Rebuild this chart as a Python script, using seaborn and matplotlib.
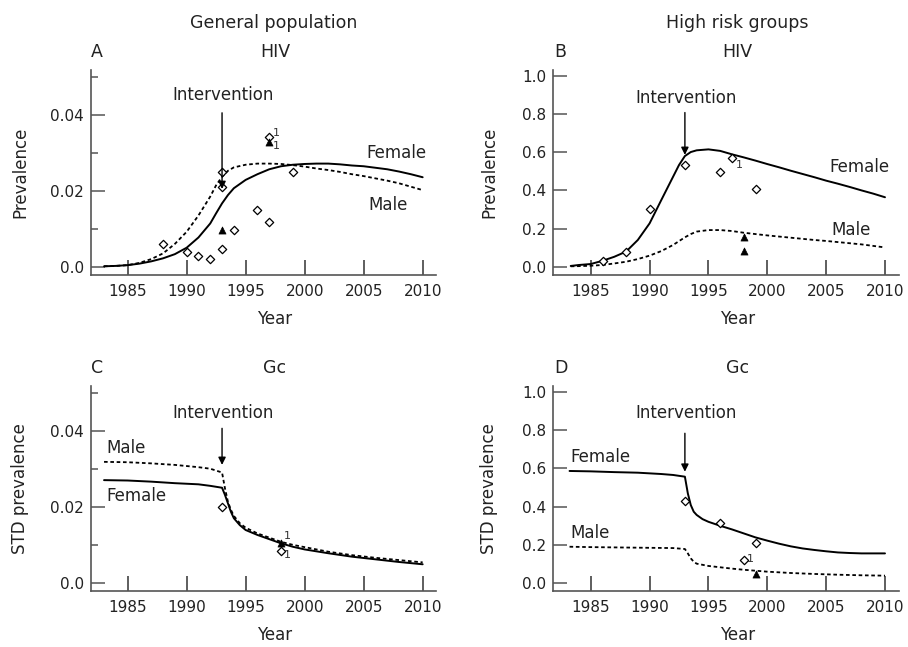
import matplotlib
matplotlib.use("Agg")
import matplotlib.pyplot as plt
import seaborn as sns
import numpy as np

# ---------------- data ----------------
# Panel A: general population, HIV
a_years = [1983, 1984, 1985, 1986, 1987, 1988, 1989, 1990, 1991, 1992, 1992.5, 1993, 1993.5,
           1994, 1995, 1996, 1997, 1998, 1999, 2000, 2001, 2002, 2003, 2004, 2005, 2006,
           2007, 2008, 2009, 2010]
a_female = [0.0001, 0.0002, 0.0004, 0.0008, 0.0014, 0.0022, 0.0033, 0.0050, 0.0077, 0.0114,
            0.0141, 0.0167, 0.0189, 0.0207, 0.0229, 0.0244, 0.0257, 0.0265, 0.0269, 0.0271,
            0.0272, 0.0272, 0.0270, 0.0267, 0.0265, 0.0261, 0.0257, 0.0251, 0.0244, 0.0236]
a_male = [0.0001, 0.0002, 0.0004, 0.0010, 0.0020, 0.0035, 0.0060, 0.0092, 0.0135, 0.0185,
          0.0215, 0.0237, 0.0253, 0.0262, 0.0269, 0.0272, 0.0272, 0.0271, 0.0268, 0.0264,
          0.0259, 0.0255, 0.0250, 0.0244, 0.0239, 0.0233, 0.0227, 0.0220, 0.0211, 0.0202]
a_obs_years = [1988, 1990, 1991, 1992, 1993, 1993, 1993, 1994, 1996, 1997, 1997, 1999]
a_obs_vals = [0.0059, 0.0040, 0.0028, 0.0019, 0.0047, 0.0209, 0.0251, 0.0098, 0.0149, 0.0119,
              0.0342, 0.0251]
a_tri_years = [1993, 1997]
a_tri_vals = [0.0098, 0.0330]

# Panel B: high risk groups, HIV
b_years = [1983.3, 1984, 1985, 1986, 1987, 1988, 1989, 1990, 1991, 1992, 1992.5, 1993, 1993.5,
           1994, 1995, 1996, 1997, 1998, 1999, 2000, 2001, 2002, 2003, 2004, 2005, 2006,
           2007, 2008, 2009, 2010]
b_female = [0.004, 0.009, 0.014, 0.031, 0.052, 0.079, 0.140, 0.227, 0.350, 0.472, 0.533, 0.580,
            0.601, 0.610, 0.615, 0.607, 0.589, 0.573, 0.556, 0.538, 0.521, 0.503, 0.486, 0.469,
            0.451, 0.435, 0.418, 0.400, 0.383, 0.364]
b_male = [0.002, 0.003, 0.005, 0.009, 0.017, 0.026, 0.040, 0.058, 0.082, 0.114, 0.134, 0.154,
          0.171, 0.184, 0.192, 0.192, 0.187, 0.178, 0.171, 0.164, 0.158, 0.152, 0.146, 0.140,
          0.135, 0.129, 0.123, 0.117, 0.109, 0.101]
b_obs_years = [1986, 1988, 1990, 1993, 1996, 1997, 1999]
b_obs_vals = [0.031, 0.075, 0.302, 0.533, 0.495, 0.570, 0.406]
b_tri_years = [1998, 1998]
b_tri_vals = [0.157, 0.084]

# Panel C: general population, Gc
c_years = [1983, 1985, 1987, 1989, 1991, 1992, 1993, 1993.25, 1993.5, 1993.75, 1994, 1994.5,
           1995, 1996, 1997, 1998, 1999, 2000, 2002, 2004, 2006, 2008, 2010]
c_female = [0.0271, 0.0270, 0.0267, 0.0263, 0.0260, 0.0256, 0.0251, 0.0232, 0.0210, 0.0188,
            0.0171, 0.0153, 0.0140, 0.0127, 0.0116, 0.0105, 0.0096, 0.0089, 0.0079, 0.0070,
            0.0063, 0.0056, 0.0050]
c_male = [0.0319, 0.0318, 0.0315, 0.0311, 0.0305, 0.0301, 0.0291, 0.0249, 0.0214, 0.0193,
          0.0177, 0.0158, 0.0146, 0.0131, 0.0120, 0.0109, 0.0101, 0.0095, 0.0083, 0.0074,
          0.0067, 0.0061, 0.0055]
c_obs_years = [1993, 1998]
c_obs_vals = [0.0200, 0.0086]
c_tri_years = [1998]
c_tri_vals = [0.0105]

# Panel D: high risk groups, Gc
d_female_years = [1983.2, 1985, 1987, 1989, 1991, 1992, 1993, 1993.1, 1993.25, 1993.5, 1993.75,
                  1994, 1994.5, 1995, 1996, 1997, 1998, 1999, 2000, 2001, 2002, 2003, 2004,
                  2005, 2006, 2007, 2008, 2010]
d_female = [0.587, 0.585, 0.581, 0.578, 0.571, 0.566, 0.557, 0.522, 0.469, 0.408, 0.373, 0.356,
            0.334, 0.320, 0.299, 0.280, 0.259, 0.238, 0.221, 0.205, 0.191, 0.180, 0.172, 0.165,
            0.159, 0.156, 0.154, 0.154]
d_male_years = [1983.2, 1985, 1989, 1992, 1993, 1993.25, 1993.5, 1993.75, 1994, 1995, 1996,
                1997, 1998, 1999, 2000, 2002, 2004, 2006, 2008, 2010]
d_male = [0.189, 0.187, 0.184, 0.182, 0.177, 0.154, 0.128, 0.110, 0.100, 0.088, 0.081, 0.074,
          0.068, 0.063, 0.058, 0.051, 0.046, 0.042, 0.039, 0.037]
d_obs_years = [1993, 1996, 1998, 1999]
d_obs_vals = [0.429, 0.315, 0.119, 0.210]
d_tri_years = [1999]
d_tri_vals = [0.046]

x_ticks = [1985, 1990, 1995, 2000, 2005, 2010]
small_y_ticks = [0.0, 0.02, 0.04]
small_y_labels = ["0.0", "0.02", "0.04"]
small_y_minor = [0.01, 0.03, 0.05]
big_y_ticks = [0.0, 0.2, 0.4, 0.6, 0.8, 1.0]
big_y_labels = ["0.0", "0.2", "0.4", "0.6", "0.8", "1.0"]

# ---------------- style ----------------
sns.set_theme(style="ticks")
plt.rcParams["font.family"] = ["DejaVu Sans"]
GREY = "#555555"
INK = "#222222"
W, H = 908, 647

fig = plt.figure(figsize=(W / 100, H / 100), dpi=100)


def px_axes(left, top, right, bottom):
    return fig.add_axes([left / W, 1 - bottom / H, (right - left) / W, (bottom - top) / H])


axA = px_axes(90.7, 70, 436, 275)
axB = px_axes(553.3, 70, 899, 275)
axC = px_axes(90.7, 385.7, 436, 590.7)
axD = px_axes(553.3, 385.7, 899, 590.7)

DOT = (0, (2, 1.5))


def draw(ax, fy, fv, my, mv, oy, ov, ty, tv):
    sns.lineplot(x=fy, y=fv, ax=ax, color="black", lw=1.4, errorbar=None, sort=False)
    sns.lineplot(x=my, y=mv, ax=ax, color="black", lw=1.3, errorbar=None, sort=False,
                 linestyle=DOT)
    sns.scatterplot(x=oy, y=ov, ax=ax, marker="D", s=18, color="white", edgecolor="black",
                    linewidth=0.9, zorder=4)
    sns.scatterplot(x=ty, y=tv, ax=ax, marker="^", s=26, color="black", edgecolor="black",
                    linewidth=0.5, zorder=4)


draw(axA, a_years, a_female, a_years, a_male, a_obs_years, a_obs_vals, a_tri_years, a_tri_vals)
draw(axB, b_years, b_female, b_years, b_male, b_obs_years, b_obs_vals, b_tri_years, b_tri_vals)
draw(axC, c_years, c_female, c_years, c_male, c_obs_years, c_obs_vals, c_tri_years, c_tri_vals)
draw(axD, d_female_years, d_female, d_male_years, d_male, d_obs_years, d_obs_vals,
     d_tri_years, d_tri_vals)

for ax in (axA, axB, axC, axD):
    for s in ("top", "right"):
        ax.spines[s].set_visible(False)
    for s in ("left", "bottom"):
        ax.spines[s].set_color(GREY)
        ax.spines[s].set_linewidth(1.2)
    ax.set_xticks(x_ticks)
    ax.set_xticklabels([str(t) for t in x_ticks])
    ax.tick_params(axis="x", which="major", direction="in", length=10.5, width=1.1,
                   color="#333333", labelsize=11, pad=6.5, labelcolor=INK)
    ax.tick_params(axis="y", which="major", direction="in", length=10, width=1.1,
                   color=GREY, labelsize=11, pad=5, labelcolor=INK)
    ax.tick_params(axis="y", which="minor", direction="in", length=5, width=1.1, color=GREY)
    ax.set_xlabel("Year", fontsize=12, color=INK)
    ax.xaxis.label.set_va("center")

axA.set_xlim(1981.87, 2011.13)
axC.set_xlim(1981.87, 2011.13)
axB.set_xlim(1981.82, 2011.19)
axD.set_xlim(1981.82, 2011.19)
axA.set_ylim(-0.0022, 0.0519)
axC.set_ylim(-0.00194, 0.0519)
axB.set_ylim(-0.0435, 1.031)
axD.set_ylim(-0.042, 1.035)

for ax in (axA, axC):
    ax.set_yticks(small_y_ticks)
    ax.set_yticklabels(small_y_labels)
    ax.set_yticks(small_y_minor, minor=True)
for ax in (axB, axD):
    ax.set_yticks(big_y_ticks)
    ax.set_yticklabels(big_y_labels)

axA.set_ylabel("Prevalence", fontsize=12, color=INK)
axB.set_ylabel("Prevalence", fontsize=12, color=INK)
axC.set_ylabel("STD prevalence", fontsize=12, color=INK)
axD.set_ylabel("STD prevalence", fontsize=12, color=INK)
for ax in (axA, axB, axC, axD):
    ax.yaxis.label.set_va("center")
    ax.yaxis.label.set_rotation_mode("anchor")
axA.yaxis.set_label_coords((20 - 90.7) / 345.3, 0.5)
axC.yaxis.set_label_coords((20 - 90.7) / 345.3, 0.5)
axB.yaxis.set_label_coords((489 - 553.3) / 345.7, 0.5)
axD.yaxis.set_label_coords((489 - 553.3) / 345.7, 0.5)
axA.xaxis.set_label_coords((275 - 90.7) / 345.3, (275 - 319) / 205)
axB.xaxis.set_label_coords((737.3 - 553.3) / 345.7, (275 - 319) / 205)
axC.xaxis.set_label_coords((275 - 90.7) / 345.3, (590.7 - 635) / 205)
axD.xaxis.set_label_coords((737.3 - 553.3) / 345.7, (590.7 - 635) / 205)

# intervention arrows
arrow_kw = dict(arrowstyle="-|>", color="black", lw=1.0, mutation_scale=11,
                shrinkA=0, shrinkB=0)
for ax, xt, yt, tail, head in ((axA, 1993.05, 0.0452, 0.0406, 0.0205),
                               (axB, 1993.07, 0.886, 0.808, 0.586),
                               (axC, 1993.05, 0.0447, 0.0407, 0.0311),
                               (axD, 1993.07, 0.890, 0.785, 0.583)):
    ax.annotate("", xy=(1993, head), xytext=(1993, tail), arrowprops=arrow_kw, zorder=5)
    ax.text(xt, yt, "Intervention", ha="center", va="center", fontsize=12, color=INK)

# curve labels
TK = dict(fontsize=12, color=INK, va="center")
axA.text(2007.8, 0.0301, "Female", ha="center", **TK)
axA.text(2007.1, 0.0163, "Male", ha="center", **TK)
axB.text(2007.85, 0.524, "Female", ha="center", **TK)
axB.text(2007.1, 0.192, "Male", ha="center", **TK)
axC.text(1983.16, 0.0355, "Male", ha="left", **TK)
axC.text(1983.16, 0.0229, "Female", ha="left", **TK)
axD.text(1983.3, 0.662, "Female", ha="left", **TK)
axD.text(1983.3, 0.259, "Male", ha="left", **TK)

# small "1" annotations
SK = dict(fontsize=8, color="#333333", ha="center", va="center")
axA.text(1997.6, 0.0353, "1", **SK)
axA.text(1997.6, 0.0318, "1", **SK)
axB.text(1997.65, 0.533, "1", **SK)
axC.text(1998.5, 0.0124, "1", **SK)
axC.text(1998.5, 0.0074, "1", **SK)
axD.text(1998.6, 0.124, "1", **SK)


# titles
def ftext(x, y, s, **kw):
    fig.text(x / W, 1 - y / H, s, va="center", color=INK, **kw)


ftext(274, 23, "General population", ha="center", fontsize=12.5)
ftext(737, 23, "High risk groups", ha="center", fontsize=12.5)
ftext(90.7, 52, "A", ha="left", fontsize=12.5)
ftext(275, 52, "HIV", ha="center", fontsize=12.5)
ftext(554, 52, "B", ha="left", fontsize=12.5)
ftext(737.3, 52, "HIV", ha="center", fontsize=12.5)
ftext(90.7, 367.7, "C", ha="left", fontsize=12.5)
ftext(275, 367.7, "Gc", ha="center", fontsize=12.5)
ftext(554, 367.7, "D", ha="left", fontsize=12.5)
ftext(737.3, 367.7, "Gc", ha="center", fontsize=12.5)

fig.savefig("out.png", dpi=100, facecolor="white")
